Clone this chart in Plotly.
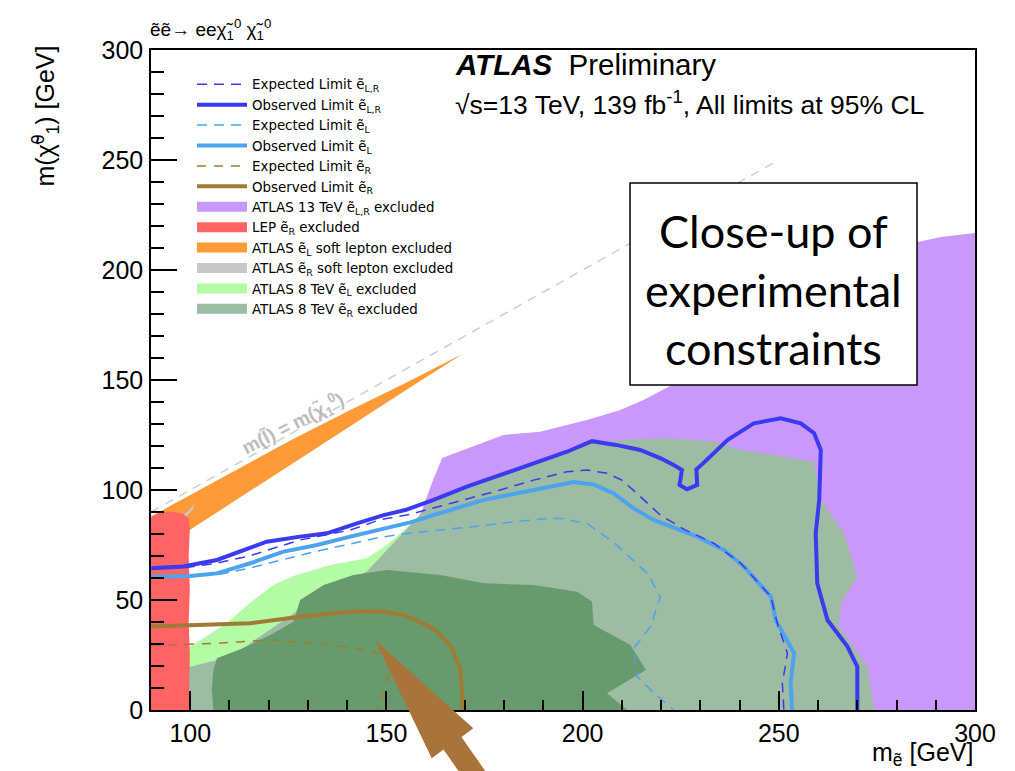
import plotly.graph_objects as go

# ---------------- data (GeV) ----------------
# ATLAS 13 TeV e_LR excluded region
purple_x = [157.3, 159.1, 161.6, 164.2, 179.8, 189.2, 201.1, 209.6, 215.5, 230, 255.6, 285.4, 291.3, 300, 300, 270, 262, 255, 200, 170, 160]
purple_y = [84.1, 90.9, 103.2, 114.5, 125, 126.5, 131.8, 136.4, 140.9, 154.5, 186.4, 212.7, 215, 216.8, 0, 0, 50, 100, 110, 95, 82]

# ATLAS 8 TeV e_R excluded
grgreen_x = [99.5, 99.5, 110, 130, 145, 156.9, 161.9, 170.5, 179.0, 187.4, 196.0, 202.4, 212, 221.6, 233.4, 240.3, 259.0, 260.7, 266.6, 270.0, 265.8, 265.3, 272.6, 274.3]
grgreen_y = [0, 22, 30, 52, 66, 85.6, 95, 101, 106.3, 111.6, 116.9, 121.5, 123, 123.5, 122.0, 118.2, 112.9, 95.5, 80.3, 60.6, 48.5, 37.9, 19.7, 0]

# ATLAS 8 TeV e_L excluded
lgreen_x = [95, 99.95, 109.3, 116.1, 121.2, 126.3, 135.7, 145.0, 150.1, 156.9, 145.0, 131.4, 110.2, 99.95, 95]
lgreen_y = [26, 28.8, 39.4, 50, 56.8, 60.9, 65.9, 69.0, 75, 85.6, 62.9, 50, 24.2, 19.7, 17]

# overlap of the two 8 TeV regions
dgreen_x = [105.9, 105.5, 105.9, 106.8, 114.4, 121.2, 126.3, 128.0, 134.0, 141.6, 150.1, 163.7, 174.8, 187.5, 198.6, 202.4, 202.8, 212.2, 216.1, 206.2, 211.4]
dgreen_y = [0, 9.1, 18.2, 23.5, 28.8, 34.9, 40.1, 50, 56.8, 61.4, 63.6, 61.4, 57.6, 56.8, 53.8, 49.2, 38.6, 29.5, 18.2, 7.6, 0]

# LEP e_R excluded
lep_x = [90, 90, 92, 95, 98, 99.6, 99.9, 99.6, 99.9, 99.6, 99.9, 99.7, 99.8]
lep_y = [0, 87.5, 89.5, 90.2, 89.3, 87, 82, 70, 55, 40, 25, 10, 0]

# ATLAS e_L soft lepton excluded
soft_l_x = [90, 100, 112.7, 125.5, 140.8, 155, 169.3, 168, 155, 136.4, 120, 99.9, 90]
soft_l_y = [88, 97.7, 110, 122.5, 136.4, 148.7, 161.8, 160.2, 145.5, 124, 105, 81.8, 70.4]

# ATLAS e_R soft lepton excluded
soft_r_x = [94, 97, 99.5, 101.3, 100.5, 98.5, 95.5]
soft_r_y = [83.5, 87, 90.5, 94.3, 90.8, 87.2, 83.5]

# limits
obs_lr_x = [90, 98.2, 106.8, 113.5, 119.5, 128, 134.8, 142.5, 149.3, 155, 162.0, 170.5, 179.0, 187.5, 196.0, 202.4, 208.5, 214.7, 219.9, 223.2, 225.3, 224.7, 226.6, 229.2, 229.0, 230.7, 236.9, 243.6, 250.5, 255.6, 259.0, 260.7, 260.3, 259.4, 259.8, 262.4, 267.5, 270, 270]
obs_lr_y = [64.4, 65.2, 68.2, 72.7, 76.5, 78.8, 80.3, 84.8, 88.6, 91.0, 95.5, 101.5, 106.8, 112.1, 117.4, 122.2, 120.5, 118.2, 114.4, 111.4, 109.1, 102.3, 100.3, 102.3, 109.4, 112.1, 122.7, 130.3, 132.6, 130.3, 125.8, 118.2, 95.5, 80.3, 57.6, 40.9, 28.8, 19.7, 0]

exp_lr_x = [90, 97.4, 106, 115, 128, 140.8, 148.4, 156.1, 166.3, 179, 187.5, 196, 201.1, 206.2, 210, 213.5, 219.8, 226, 233.4, 240.3, 248.0, 249.6, 252.2, 250.9, 251.3]
exp_lr_y = [64.2, 64.4, 66.5, 70, 77.3, 81.8, 86.5, 89, 93.9, 100, 104.5, 108.3, 109.1, 107.6, 104.5, 99, 88.6, 82, 75.8, 66.7, 51.5, 39.4, 25.8, 12.1, 0]

obs_l_x = [90, 99.95, 106.8, 115.3, 123.8, 132.3, 140.8, 149.3, 156.1, 162, 174.8, 187.5, 197.7, 202.8, 207.9, 213.0, 218.1, 229.2, 236.0, 241.1, 248, 249.2, 253.9, 253.0, 253.4]
obs_l_y = [60.6, 60.9, 62.1, 66.7, 72, 75, 78.8, 82.6, 85.3, 88.6, 95.5, 100, 103.6, 102.5, 98.5, 91.7, 86.4, 78.8, 72.7, 65.2, 51.5, 40.9, 25.8, 12.1, 0]

exp_l_x = [90, 97.4, 106.8, 114.4, 122, 131.4, 140.8, 148.4, 156.1, 163.7, 170.5, 180, 190.9, 194.3, 199.4, 201.1, 207.9, 214.7, 216.5, 219.8, 217.3, 213, 213.9, 218, 223.2]
exp_l_y = [60, 60.6, 61.4, 64.2, 67.5, 71.8, 75.5, 78.5, 80.5, 81.7, 83, 85, 87.1, 87.1, 85.6, 84.8, 76.2, 65.2, 62.1, 51.5, 37.9, 28, 15.2, 8, 0]

obs_r_x = [90, 115.3, 128, 140.8, 146, 149.3, 154.4, 158, 162.4, 166.5, 168.8, 169.3, 169.3]
obs_r_y = [37.9, 39.4, 42.4, 44.7, 44.9, 44.7, 43.2, 40.5, 36.4, 28.8, 19.0, 8, 0]

exp_r_x = [90, 100, 106.8, 119.5, 132.3, 142.5, 148.4, 150.5, 151, 150.1, 149.3, 147.6]
exp_r_y = [29.3, 30, 30.3, 31.8, 30.3, 28, 25.8, 22, 18.2, 13.6, 9.1, 0]

diag_x = [90, 250]
diag_y = [90, 250]

x_ticks = [100, 150, 200, 250, 300]
y_ticks = [0, 50, 100, 150, 200, 250, 300]

# ---------------- styles ----------------
C_DBLUE = "#3a3af0"
C_LBLUE = "#4ea3ee"
C_BROWN = "#a07b35"
C_PURPLE = "#c899fb"
C_RED = "#fe6464"
C_ORANGE = "#fe9a37"
C_GRAY = "#c8c8c8"
C_LGREEN = "#b3fca5"
C_GRGREEN = "#9ebba3"
C_DGREEN = "#679a6c"
C_ARROW = "#a8743a"
ET = "e\u0303"
FONT = "Liberation Sans, Arial, Helvetica, sans-serif"
LFONT = "DejaVu Sans, sans-serif"

fig = go.Figure()

def area(x, y, color):
    fig.add_trace(go.Scatter(x=x, y=y, mode="lines", fill="toself", fillcolor=color,
                             line=dict(width=0, color=color), showlegend=False,
                             hoverinfo="skip"))

area(purple_x, purple_y, C_PURPLE)
area(grgreen_x, grgreen_y, C_GRGREEN)
area(lgreen_x, lgreen_y, C_LGREEN)
area(dgreen_x, dgreen_y, C_DGREEN)
area(soft_l_x, soft_l_y, C_ORANGE)
area(soft_r_x, soft_r_y, C_GRAY)
area(lep_x, lep_y, C_RED)

fig.add_trace(go.Scatter(x=diag_x, y=diag_y, mode="lines", showlegend=False,
                         line=dict(color="#cfcfcf", width=1.5, dash="9px,7px")))

def limit(x, y, color, width, dash, name, rank):
    fig.add_trace(go.Scatter(x=x, y=y, mode="lines", name=name, legendrank=rank,
                             line=dict(color=color, width=width, dash=dash)))

limit(exp_r_x, exp_r_y, C_BROWN, 1.5, "9px,8px", f"Expected Limit {ET}<sub>R</sub>", 5)
limit(obs_r_x, obs_r_y, C_BROWN, 4, "solid", f"Observed Limit {ET}<sub>R</sub>", 6)
limit(exp_l_x, exp_l_y, C_LBLUE, 1.5, "10px,7px", f"Expected Limit {ET}<sub>L</sub>", 3)
limit(obs_l_x, obs_l_y, C_LBLUE, 4, "solid", f"Observed Limit {ET}<sub>L</sub>", 4)
limit(exp_lr_x, exp_lr_y, C_DBLUE, 1.5, "10px,7px", f"Expected Limit {ET}<sub>L,R</sub>", 1)
limit(obs_lr_x, obs_lr_y, C_DBLUE, 4, "solid", f"Observed Limit {ET}<sub>L,R</sub>", 2)

# legend swatches for the filled regions
swatches = [
    (C_PURPLE, f"ATLAS 13 TeV {ET}<sub>L,R</sub> excluded", 7),
    (C_RED, f"LEP {ET}<sub>R</sub> excluded", 8),
    (C_ORANGE, f"ATLAS {ET}<sub>L</sub> soft lepton excluded", 9),
    (C_GRAY, f"ATLAS {ET}<sub>R</sub> soft lepton excluded", 10),
    (C_LGREEN, f"ATLAS 8 TeV {ET}<sub>L</sub> excluded", 11),
    (C_GRGREEN, f"ATLAS 8 TeV {ET}<sub>R</sub> excluded", 12),
]
for c, n, r in swatches:
    fig.add_trace(go.Scatter(x=[None], y=[None], mode="lines", name=n, legendrank=r,
                             line=dict(color=c, width=12)))

# ---------------- layout ----------------
L, R, T, B = 151, 40, 50, 61
W, H = 1015, 771
PW, PH = W - L - R, H - T - B

def pp(px, py):
    return (px - L) / PW, (H - B - py) / PH

fig.update_layout(
    width=W, height=H,
    margin=dict(l=L, r=R, t=T, b=B, pad=0),
    plot_bgcolor="white", paper_bgcolor="white",
    font=dict(family=FONT, color="black"),
    legend=dict(x=pp(192, 0)[0], y=pp(0, 69)[1], xanchor="left", yanchor="top",
                bgcolor="rgba(0,0,0,0)", font=dict(size=13.4, family=LFONT),
                itemwidth=50, tracegroupgap=0, traceorder="normal"),
    xaxis=dict(range=[90, 300], tickvals=x_ticks, ticks="inside", ticklen=19, tickwidth=1.5,
               tickcolor="black", showline=True, linecolor="black", linewidth=1.5, mirror=True,
               showgrid=False, zeroline=False, tickfont=dict(size=25), ticklabelstandoff=0,
               minor=dict(dtick=10, tick0=90, ticks="inside", ticklen=10, tickwidth=1.5, tickcolor="black")),
    yaxis=dict(range=[0, 300], tickvals=y_ticks, ticks="inside", ticklen=26, tickwidth=1.5,
               tickcolor="black", showline=True, linecolor="black", linewidth=1.5, mirror=True,
               showgrid=False, zeroline=False, tickfont=dict(size=25), ticklabelstandoff=1,
               minor=dict(dtick=10, tick0=0, ticks="inside", ticklen=13, tickwidth=1.5, tickcolor="black")),
)

ann = []
ann.append(dict(text=f"{ET}{ET}\u2192 ee\u03c7\u0303<sub>1</sub><sup>0</sup> \u03c7\u0303<sub>1</sub><sup>0</sup>",
                xref="paper", yref="paper", x=pp(148, 0)[0], y=pp(0, 29)[1], xanchor="left", yanchor="middle",
                showarrow=False, font=dict(size=19)))
ann.append(dict(text="<b><i>ATLAS</i></b>  Preliminary", xref="paper", yref="paper",
                x=pp(453, 0)[0], y=pp(0, 65)[1], xanchor="left", yanchor="middle",
                showarrow=False, font=dict(size=29.5)))
ann.append(dict(text="\u221as=13 TeV, 139 fb<sup>-1</sup>, All limits at 95% CL", xref="paper", yref="paper",
                x=pp(453, 0)[0], y=pp(0, 103)[1], xanchor="left", yanchor="middle",
                showarrow=False, font=dict(size=26.5)))
ann.append(dict(text="m<sub>" + ET + "</sub> [GeV]", xref="paper", yref="paper",
                x=1, y=pp(0, 754)[1], xanchor="right", yanchor="middle",
                showarrow=False, font=dict(size=25)))
ann.append(dict(text="m(\u03c7\u0303<sup>0</sup><sub>1</sub>) [GeV]", xref="paper", yref="paper",
                x=pp(45, 0)[0], y=pp(0, 44)[1], xanchor="center", yanchor="top", textangle=-90,
                showarrow=False, font=dict(size=25)))
ann.append(dict(text="<b>m(l\u0303) = m(\u03c7\u0303<sub>1</sub><sup>0</sup>)</b>", xref="x", yref="y",
                x=126.3, y=130.3, textangle=-27, showarrow=False,
                font=dict(size=19, color="#bdbdbd")))
# close-up box text
bx0, by0 = pp(630, 385)
bx1, by1 = pp(917, 183)
ann.append(dict(text="Close-up of<br>experimental<br>constraints", xref="paper", yref="paper",
                x=(bx0 + bx1) / 2, y=pp(0, 289)[1], xanchor="center", yanchor="middle",
                showarrow=False, font=dict(size=45, family="Lato, Open Sans, sans-serif")))
fig.update_layout(annotations=ann)

shapes = [dict(type="rect", xref="paper", yref="paper", x0=bx0, y0=by0, x1=bx1, y1=by1,
               fillcolor="white", line=dict(color="black", width=1.5), layer="above")]
arrow_px = [(375, 640), (431.7, 758.3), (443.5, 749.6), (477.9, 798.8), (495.9, 786.2), (461.5, 737), (473.3, 728.3)]
path = "M " + " L ".join(f"{pp(a, b)[0]:.4f},{pp(a, b)[1]:.4f}" for a, b in arrow_px) + " Z"
shapes.append(dict(type="path", xref="paper", yref="paper", path=path, fillcolor=C_ARROW,
                   line=dict(width=0), layer="above"))
fig.update_layout(shapes=shapes)

fig.write_html("out.html")
